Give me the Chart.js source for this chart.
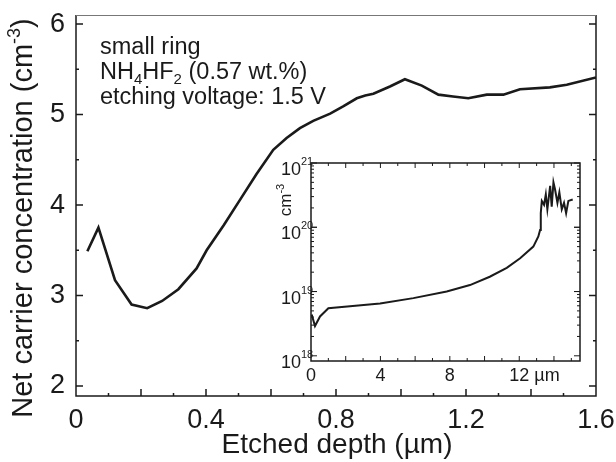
<!DOCTYPE html>
<html>
<head>
<meta charset="utf-8">
<script src="https://cdn.jsdelivr.net/npm/chart.js@4.4.1/dist/chart.umd.min.js"></script>
<style>
  html, body { margin: 0; padding: 0; background: #fff; }
  #wrap { position: relative; width: 616px; height: 462px; }
  #mainChart { position: absolute; left: 0; top: 0; }
  #insetChart { position: absolute; left: 262px; top: 145px; }
</style>
</head>
<body>
<div id="wrap">
  <canvas id="mainChart" width="616" height="462"></canvas>
  <canvas id="insetChart" width="338" height="245"></canvas>
</div>
<script>
// ---- main profile ----
const depth = [0.035, 0.069, 0.12, 0.171, 0.219, 0.265, 0.315, 0.371, 0.402, 0.455,
  0.505, 0.555, 0.607, 0.648, 0.689, 0.73, 0.782, 0.822, 0.864, 0.89, 0.915, 0.966,
  1.012, 1.064, 1.115, 1.16, 1.207, 1.264, 1.315, 1.366, 1.458, 1.51, 1.6];
const conc = [3.49, 3.75, 3.17, 2.90, 2.86, 2.94, 3.07, 3.30, 3.50, 3.78,
  4.06, 4.34, 4.61, 4.74, 4.85, 4.93, 5.01, 5.09, 5.18, 5.21, 5.23, 5.31,
  5.39, 5.32, 5.22, 5.20, 5.18, 5.22, 5.22, 5.28, 5.30, 5.33, 5.41];
const xTicks = [0, 0.4, 0.8, 1.2, 1.6];
const yTicks = [2, 3, 4, 5, 6];

// ---- inset (log scale, full depth) ----
const insetDepth = [0.04, 0.23, 0.52, 1.0, 2.25, 3.98, 5.9, 7.82, 9.16, 10.3, 11.28,
  12.05, 12.81, 13.1, 13.2, 13.24, 13.3, 13.43, 13.53, 13.62, 13.78, 13.87, 13.97,
  14.06, 14.2, 14.31, 14.45, 14.58, 14.7, 14.83, 15.08];
const insetConc = [4.4e18, 2.9e18, 4.1e18, 5.5e18, 5.9e18, 6.5e18, 7.9e18, 1.0e19,
  1.26e19, 1.7e19, 2.34e19, 3.3e19, 5.0e19, 7.2e19, 9.1e19, 1.66e20, 2.57e20, 2.24e20,
  3.24e20, 1.9e20, 4.4e20, 2.1e20, 5.0e20, 3.9e20, 2.4e20, 3.5e20, 1.9e20, 2.4e20,
  1.66e20, 2.57e20, 2.7e20];
const insetXTicks = [0, 4, 8, 12];
const insetYTicks = [1e18, 1e19, 1e20, 1e21];

const FONT = '"Liberation Sans", Arial, sans-serif';
const INK = '#1a1a1a';

// draw text made of pieces, some of them sub- or superscript
function richWidth(ctx, parts, size) {
    let w = 0;
    parts.forEach(p => {
        ctx.font = (p.sub || p.sup ? Math.round(size * 0.62) : size) + 'px ' + FONT;
        w += ctx.measureText(p.t).width;
    });
    return w;
}
function drawRich(ctx, parts, x, y, size) {
    let cx = x;
    parts.forEach(p => {
        const s = p.sub || p.sup ? Math.round(size * 0.62) : size;
        ctx.font = s + 'px ' + FONT;
        let dy = 0;
        if (p.sub) dy = size * 0.22;
        if (p.sup) dy = -size * 0.42;
        ctx.fillText(p.t, cx, y + dy);
        cx += ctx.measureText(p.t).width;
    });
}

// no extra room for overhanging labels, the frame stays where it is
function noPad(s) {
    s.paddingTop = 0; s.paddingBottom = 0; s.paddingLeft = 0; s.paddingRight = 0;
}

// ===============================
// main chart
// ===============================
const mainFrame = {
    id: 'mainFrame',
    afterDraw(chart) {
        const { ctx, chartArea: a, scales: { x, y } } = chart;
        ctx.save();
        ctx.strokeStyle = INK;
        ctx.lineWidth = 1.5;
        ctx.beginPath();
        ctx.moveTo(a.left, a.top); ctx.lineTo(a.left, a.bottom);
        ctx.lineTo(a.right, a.bottom); ctx.lineTo(a.right, a.top);
        ctx.stroke();
        ctx.strokeStyle = '#777';
        ctx.lineWidth = 1;
        ctx.beginPath();
        ctx.moveTo(a.left, a.top + 0.5); ctx.lineTo(a.right, a.top + 0.5);
        ctx.stroke();

        // tick marks pointing inward
        ctx.strokeStyle = INK;
        ctx.lineWidth = 1.5;
        ctx.beginPath();
        for (let i = 1; i < 16; i++) {
            const px = x.getPixelForValue(i / 10);
            const len = i % 2 === 0 ? 7 : 3;
            ctx.moveTo(px, a.bottom); ctx.lineTo(px, a.bottom - len);
        }
        for (let i = 0; i <= 8; i++) {
            const py = y.getPixelForValue(2 + i / 2);
            const len = i % 2 === 0 ? 7 : 3;
            ctx.moveTo(a.left, py); ctx.lineTo(a.left + len, py);
            ctx.moveTo(a.right, py); ctx.lineTo(a.right - len, py);
        }
        ctx.stroke();

        // axis titles
        ctx.fillStyle = INK;
        ctx.textBaseline = 'alphabetic';
        ctx.font = '28px ' + FONT;
        ctx.textAlign = 'center';
        ctx.fillText('Etched depth (\u00b5m)', 337, 453);

        ctx.textAlign = 'left';
        const yTitle = [{ t: 'Net carrier concentration (cm' }, { t: '-3', sup: true }, { t: ')' }];
        const w = richWidth(ctx, yTitle, 29);
        ctx.save();
        ctx.translate(32, 218);
        ctx.rotate(-Math.PI / 2);
        drawRich(ctx, yTitle, -w / 2, 0, 29);
        ctx.restore();

        // notes
        drawRich(ctx, [{ t: 'small ring' }], 100, 54, 23.5);
        drawRich(ctx, [{ t: 'NH' }, { t: '4', sub: true }, { t: 'HF' }, { t: '2', sub: true }, { t: ' (0.57 wt.%)' }], 100, 79, 23.5);
        drawRich(ctx, [{ t: 'etching voltage: 1.5 V' }], 100, 104, 23.5);
        ctx.restore();
    }
};

new Chart(document.getElementById('mainChart').getContext('2d'), {
    type: 'line',
    data: {
        datasets: [{
            data: depth.map((d, i) => ({ x: d, y: conc[i] })),
            borderColor: INK,
            borderWidth: 2.6,
            pointRadius: 0,
            tension: 0,
            fill: false
        }]
    },
    options: {
        responsive: false,
        animation: false,
        layout: { padding: { left: 0, top: 15, right: 20, bottom: 0 } },
        plugins: { legend: { display: false }, tooltip: { enabled: false } },
        scales: {
            x: {
                type: 'linear',
                min: 0,
                max: 1.6,
                afterBuildTicks: s => { s.ticks = xTicks.map(v => ({ value: v })); },
                afterFit: s => { s.height = 66; noPad(s); },
                grid: { display: false, drawTicks: false },
                border: { display: false },
                ticks: {
                    color: INK,
                    padding: 8,
                    maxRotation: 0,
                    autoSkip: false,
                    font: { family: FONT, size: 27 },
                    callback: v => String(v)
                }
            },
            y: {
                type: 'linear',
                min: 1.89,
                max: 6.1,
                afterBuildTicks: s => { s.ticks = yTicks.map(v => ({ value: v })); },
                afterFit: s => { s.width = 76; noPad(s); },
                grid: { display: false, drawTicks: false },
                border: { display: false },
                ticks: {
                    color: INK,
                    padding: 11,
                    font: { family: FONT, size: 27 },
                    callback: v => String(v)
                }
            }
        }
    },
    plugins: [mainFrame]
});

// ===============================
// inset chart
// ===============================
const insetFrame = {
    id: 'insetFrame',
    afterDraw(chart) {
        const { ctx, chartArea: a, scales: { x, y } } = chart;
        ctx.save();
        ctx.strokeStyle = INK;
        ctx.lineWidth = 1.5;
        ctx.strokeRect(a.left, a.top, a.right - a.left, a.bottom - a.top);

        ctx.lineWidth = 1;
        ctx.beginPath();
        for (let i = 1; i <= 15; i++) {
            const px = x.getPixelForValue(i);
            const len = i % 2 === 0 ? 5 : 3;
            ctx.moveTo(px, a.bottom); ctx.lineTo(px, a.bottom - len);
            ctx.moveTo(px, a.top); ctx.lineTo(px, a.top + len);
        }
        for (let e = 18; e <= 20; e++) {
            for (let m = 1; m <= 10; m++) {
                const v = m * Math.pow(10, e);
                if (v < y.min || v > y.max) continue;
                const py = y.getPixelForValue(v);
                const len = m === 1 || m === 10 ? 6 : 3;
                ctx.moveTo(a.left, py); ctx.lineTo(a.left + len, py);
                ctx.moveTo(a.right, py); ctx.lineTo(a.right - len, py);
            }
        }
        ctx.stroke();

        // tick labels
        ctx.fillStyle = INK;
        ctx.textBaseline = 'middle';
        insetYTicks.forEach(v => {
            const py = y.getPixelForValue(v);
            ctx.font = '18px ' + FONT;
            ctx.textAlign = 'right';
            ctx.fillText('10', a.left - 10, py + 7);
            ctx.font = '11px ' + FONT;
            ctx.textAlign = 'left';
            ctx.fillText(String(Math.round(Math.log10(v))), a.left - 10, py - 1);
        });
        ctx.font = '18px ' + FONT;
        insetXTicks.forEach((v, i) => {
            const px = x.getPixelForValue(v);
            ctx.textAlign = 'center';
            ctx.fillText(String(v), px, a.bottom + 15);
            if (i === insetXTicks.length - 1) {
                const w = ctx.measureText(String(v)).width;
                ctx.textAlign = 'left';
                ctx.fillText(' \u00b5m', px + w / 2, a.bottom + 15);
            }
        });

        // unit label
        ctx.textBaseline = 'alphabetic';
        ctx.textAlign = 'left';
        const unit = [{ t: 'cm' }, { t: '-3', sup: true }];
        const w = richWidth(ctx, unit, 17);
        ctx.save();
        ctx.translate(29, 55);
        ctx.rotate(-Math.PI / 2);
        drawRich(ctx, unit, -w / 2, 0, 17);
        ctx.restore();
        ctx.restore();
    }
};

new Chart(document.getElementById('insetChart').getContext('2d'), {
    type: 'line',
    data: {
        datasets: [{
            data: insetDepth.map((d, i) => ({ x: d, y: insetConc[i] })),
            borderColor: INK,
            borderWidth: 2,
            pointRadius: 0,
            tension: 0,
            fill: false
        }]
    },
    options: {
        responsive: false,
        animation: false,
        layout: { padding: { left: 49, top: 18, right: 20, bottom: 29 } },
        plugins: { legend: { display: false }, tooltip: { enabled: false } },
        scales: {
            x: { type: 'linear', min: 0, max: 15.5, display: false },
            y: { type: 'logarithmic', min: 8.3e17, max: 1e21, display: false }
        }
    },
    plugins: [insetFrame]
});
</script>
</body>
</html>
